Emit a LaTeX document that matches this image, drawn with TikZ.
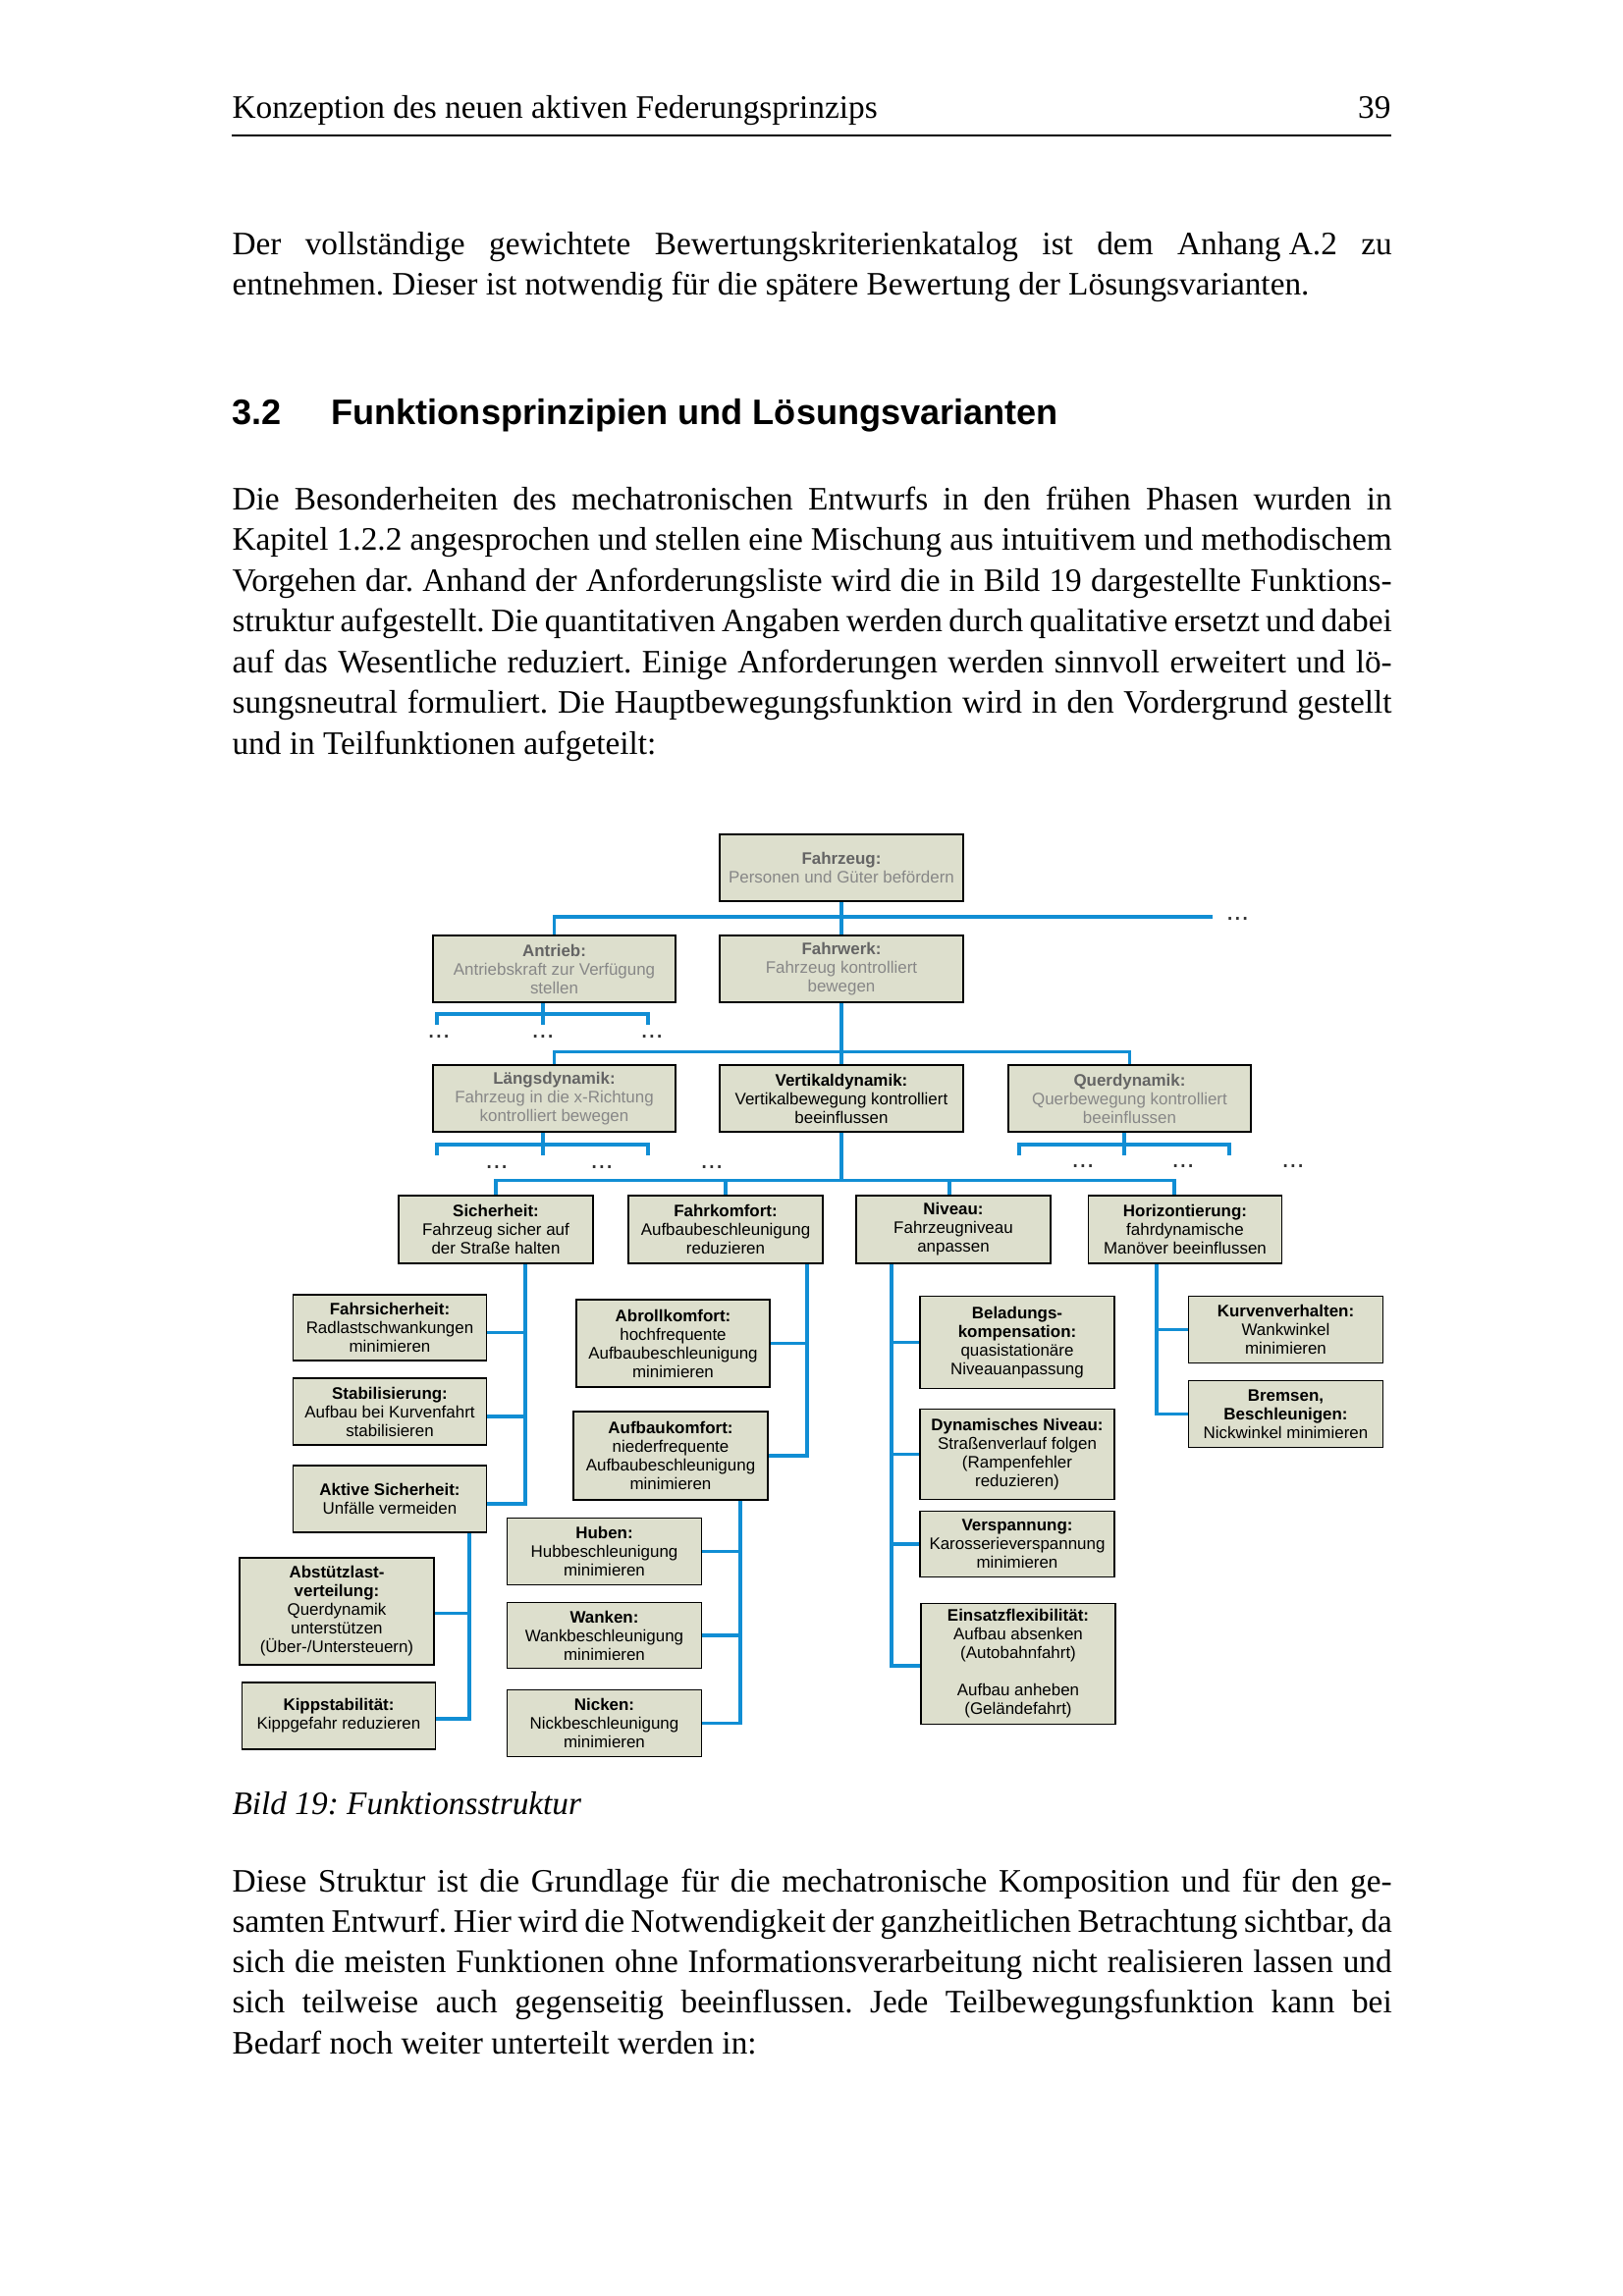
\documentclass[tikz,border=0pt]{standalone}
\usepackage{fontspec}
\setmainfont{Liberation Serif}
\setsansfont{Liberation Sans}
\usetikzlibrary{calc}
\definecolor{boxfill}{RGB}{221,223,205}
\definecolor{linkblue}{RGB}{17,142,212}
\definecolor{tgrey}{RGB}{100,100,100}
\definecolor{bgrey}{RGB}{135,135,135}
\newcommand\jline[1]{\hbox to 425.2pt{#1}}
\frenchspacing
\begin{document}
\begin{tikzpicture}[x=0.36pt, y=-0.36pt,
  body/.style={anchor=base west, inner sep=0pt, font=\fontsize{12pt}{15pt}\selectfont},
  box/.style={draw=black, line width=0.5pt, fill=boxfill, inner sep=0pt, align=center,
    font=\sffamily\fontsize{6.1pt}{6.85pt}\selectfont},
  gbox/.style={box, text=bgrey},
  bx/.style 2 args={minimum width=#1*0.36pt, minimum height=#2*0.36pt},
  conn/.style={draw=linkblue, line width=1.3pt},
  dotsn/.style={anchor=base, inner sep=0pt, font=\sffamily\fontsize{10pt}{12pt}\selectfont, text=black!80}]
\fill[white] (0,0) rectangle (1653,2339);
\useasboundingbox (0,0) rectangle (1653,2339);

% header
\node[body] (hdr) at (236,120) {Konzeption des neuen aktiven Federungsprinzips};
\node[body, anchor=base east] (pg) at (1417,120) {39};
\draw[line width=0.8pt] (236,138) -- (1417,138);

% paragraph 1
\node[body] (p1a) at (236,259) {\jline{Der vollständige gewichtete Bewertungskriterienkatalog ist dem Anhang\hspace{3pt}A.2 zu}};
\node[body] (p1b) at (236,300.5) {entnehmen. Dieser ist notwendig für die spätere Bewertung der Lösungsvarianten.};

% heading
\node[body, font=\sffamily\bfseries\fontsize{13pt}{15pt}\selectfont] (hnum) at (236,432) {3.2};
\node[body, font=\sffamily\bfseries\fontsize{13pt}{15pt}\selectfont] (htit) at (337,432) {Funktionsprinzipien und Lösungsvarianten};

% paragraph 2
\node[body] (p2a) at (236,519) {\jline{Die Besonderheiten des mechatronischen Entwurfs in den frühen Phasen wurden in}};
\node[body] (p2b) at (236,560.5) {\jline{Kapitel 1.2.2 angesprochen und stellen eine Mischung aus intuitivem und methodischem}};
\node[body] (p2c) at (236,602) {\jline{Vorgehen dar. Anhand der Anforderungsliste wird die in Bild 19 dargestellte Funktions-}};
\node[body] (p2d) at (236,643.5) {\jline{struktur aufgestellt. Die quantitativen Angaben werden durch qualitative ersetzt und dabei}};
\node[body] (p2e) at (236,685) {\jline{auf das Wesentliche reduziert. Einige Anforderungen werden sinnvoll erweitert und lö-}};
\node[body] (p2f) at (236,726.5) {\jline{sungsneutral formuliert. Die Hauptbewegungsfunktion wird in den Vordergrund gestellt}};
\node[body] (p2g) at (236,768) {und in Teilfunktionen aufgeteilt:};

% caption
\node[body, font=\itshape\fontsize{12pt}{15pt}\selectfont] (cap) at (236,1848) {Bild 19: Funktionsstruktur};

% paragraph 3
\node[body] (p3a) at (236,1927) {\jline{Diese Struktur ist die Grundlage für die mechatronische Komposition und für den ge-}};
\node[body] (p3b) at (236,1968.25) {\jline{samten Entwurf. Hier wird die Notwendigkeit der ganzheitlichen Betrachtung sichtbar, da}};
\node[body] (p3c) at (236,2009.5) {\jline{sich die meisten Funktionen ohne Informationsverarbeitung nicht realisieren lassen und}};
\node[body] (p3d) at (236,2050.75) {\jline{sich teilweise auch gegenseitig beeinflussen. Jede Teilbewegungsfunktion kann bei}};
\node[body] (p3e) at (236,2092) {Bedarf noch weiter unterteilt werden in:};

% ---------- diagram boxes ----------
\node[gbox, bx={248}{68}] (fz) at (857,884) {\textcolor{tgrey}{\textbf{Fahrzeug:}}\\Personen und Güter befördern};
\node[gbox, bx={247}{68}] (an) at (564.5,987) {\textcolor{tgrey}{\textbf{Antrieb:}}\\Antriebskraft zur Verfügung\\stellen};
\node[gbox, bx={248}{68}] (fw) at (857,987) {\textcolor{tgrey}{\textbf{Fahrwerk:}}\\Fahrzeug kontrolliert\\bewegen};
\node[gbox, bx={247}{68}] (ld) at (564.5,1119) {\textcolor{tgrey}{\textbf{Längsdynamik:}}\\Fahrzeug in die x-Richtung\\kontrolliert bewegen};
\node[box, bx={248}{68}] (vd) at (857,1119) {\textbf{Vertikaldynamik:}\\Vertikalbewegung kontrolliert\\beeinflussen};
\node[gbox, bx={247}{68}] (qd) at (1150.5,1119) {\textcolor{tgrey}{\textbf{Querdynamik:}}\\Querbewegung kontrolliert\\beeinflussen};

\node[box, bx={198}{69}] (si) at (505,1252.5) {\textbf{Sicherheit:}\\Fahrzeug sicher auf\\der Straße halten};
\node[box, bx={198}{69}] (fk) at (739,1252.5) {\textbf{Fahrkomfort:}\\Aufbaubeschleunigung\\reduzieren};
\node[box, bx={198}{69}] (ni) at (971,1252.5) {\textbf{Niveau:}\\Fahrzeugniveau\\anpassen};
\node[box, bx={197}{69}] (ho) at (1207,1252.5) {\textbf{Horizontierung:}\\fahrdynamische\\Manöver beeinflussen};

\node[box, bx={197}{67}] (fs) at (397,1352.5) {\textbf{Fahrsicherheit:}\\Radlastschwankungen\\minimieren};
\node[box, bx={197}{68}] (st) at (397,1438) {\textbf{Stabilisierung:}\\Aufbau bei Kurvenfahrt\\stabilisieren};
\node[box, bx={197}{68}] (as) at (397,1527) {\textbf{Aktive Sicherheit:}\\Unfälle vermeiden};
\node[box, bx={198}{109}] (ab) at (343,1641.3) {\textbf{Abstützlast-}\\\textbf{verteilung:}\\Querdynamik\\unterstützen\\(Über-/Untersteuern)};
\node[box, bx={197}{68}] (kp) at (345,1748) {\textbf{Kippstabilität:}\\Kippgefahr reduzieren};

\node[box, bx={197}{89}] (ak) at (685.5,1368.5) {\textbf{Abrollkomfort:}\\hochfrequente\\Aufbaubeschleunigung\\minimieren};
\node[box, bx={198}{90}] (bk) at (683,1483) {\textbf{Aufbaukomfort:}\\niederfrequente\\Aufbaubeschleunigung\\minimieren};
\node[box, bx={198}{68}] (hu) at (615.5,1580.5) {\textbf{Huben:}\\Hubbeschleunigung\\minimieren};
\node[box, bx={198}{67}] (wa) at (615.5,1666) {\textbf{Wanken:}\\Wankbeschleunigung\\minimieren};
\node[box, bx={198}{68}] (nk) at (615.5,1755.5) {\textbf{Nicken:}\\Nickbeschleunigung\\minimieren};

\node[box, bx={198}{94}] (be) at (1036,1367.5) {\textbf{Beladungs-}\\\textbf{kompensation:}\\quasistationäre\\Niveauanpassung};
\node[box, bx={198}{92}] (dn) at (1036,1481.3) {\textbf{Dynamisches Niveau:}\\Straßenverlauf folgen\\(Rampenfehler\\reduzieren)};
\node[box, bx={198}{67}] (vs) at (1036,1573) {\textbf{Verspannung:}\\Karosserieverspannung\\minimieren};
\node[box, bx={198}{123}] (ef) at (1037,1695) {\textbf{Einsatzflexibilität:}\\Aufbau absenken\\(Autobahnfahrt)\\[6.85pt]Aufbau anheben\\(Geländefahrt)};

\node[box, bx={198}{68}] (kv) at (1309.5,1354.5) {\textbf{Kurvenverhalten:}\\Wankwinkel\\minimieren};
\node[box, bx={198}{68}] (br) at (1309.5,1440.5) {\textbf{Bremsen,}\\\textbf{Beschleunigen:}\\Nickwinkel minimieren};

% ---------- connectors ----------
\coordinate (topend) at (1235,934);
\draw[conn] (an.north) |- (topend);
\draw[conn] (fz.south) -- (fw.north);

\coordinate (anL) at (445,1044);
\coordinate (anM) at (553,1044);
\coordinate (anR) at (660,1044);
\draw[conn] (an.south -| anM) -- (anM);
\draw[conn] (anL) -- ++(0,-11) -| (anR);

\coordinate (l2bar) at ($(ld.north)+(0,-13)$);
\draw[conn] (ld.north) -- (l2bar) -| (qd.north);
\draw[conn] (fw.south) -- (vd.north);

\coordinate (ldL) at (445,1177);
\coordinate (ldM) at (553,1177);
\coordinate (ldR) at (660,1177);
\draw[conn] (ld.south -| ldM) -- (ldM);
\draw[conn] (ldL) -- ++(0,-11) -| (ldR);

\coordinate (qdL) at (1038,1177);
\coordinate (qdM) at (1145,1177);
\coordinate (qdR) at (1252,1177);
\draw[conn] (qd.south -| qdM) -- (qdM);
\draw[conn] (qdL) -- ++(0,-11) -| (qdR);

\coordinate (l3bar) at ($(si.north)+(0,-15)$);
\coordinate (hoTop) at ($(ho.north)+(-11,0)$);
\coordinate (niTop) at ($(ni.north)+(-4,0)$);
\draw[conn] (si.north) -- (l3bar) -| (hoTop);
\draw[conn] (vd.south) -- (vd.south |- l3bar);
\draw[conn] (fk.north) -- (fk.north |- l3bar);
\draw[conn] (niTop) -- (niTop |- l3bar);

% Sicherheit group
\coordinate (siS) at ($(si.south)+(30,0)$);
\draw[conn] (siS) |- ($(as.east)+(0,5)$);
\draw[conn] ($(fs.east)+(0,5)$) -- ($(fs.east -| siS)+(0,5)$);
\draw[conn] ($(st.east)+(0,5)$) -- ($(st.east -| siS)+(0,5)$);
\coordinate (asS) at ($(as.south)+(81,0)$);
\draw[conn] (asS) |- ($(kp.east)+(0,3)$);
\draw[conn] ($(ab.east)+(0,2)$) -- ($(ab.east -| asS)+(0,2)$);

% Fahrkomfort group
\coordinate (fkS) at ($(fk.south)+(83,0)$);
\draw[conn] (fkS) |- (bk.east);
\draw[conn] (ak.east) -- (ak.east -| fkS);
\coordinate (bkS) at ($(bk.south)+(71,0)$);
\draw[conn] (bkS) |- (nk.east);
\draw[conn] (hu.east) -- (hu.east -| bkS);
\draw[conn] (wa.east) -- (wa.east -| bkS);

% Niveau group
\coordinate (niS) at ($(ni.south)+(-63,0)$);
\draw[conn] (niS) |- ($(ef.west)+(0,2)$);
\draw[conn] (be.west) -- (be.west -| niS);
\draw[conn] (dn.west) -- (dn.west -| niS);
\draw[conn] (vs.west) -- (vs.west -| niS);

% Horizontierung group
\coordinate (hoS) at ($(ho.south)+(-29,0)$);
\draw[conn] (hoS) |- (br.west);
\draw[conn] (kv.west) -- (kv.west -| hoS);

% dots
\node[dotsn] (d1) at (1260.5,937.5) {...};
\node[dotsn] (d2) at (447,1057) {...};
\node[dotsn] (d3) at (553,1057) {...};
\node[dotsn] (d4) at (664,1057) {...};
\node[dotsn] (d5) at (506,1190) {...};
\node[dotsn] (d6) at (613,1190) {...};
\node[dotsn] (d7) at (725,1190) {...};
\node[dotsn] (d8) at (1103,1189) {...};
\node[dotsn] (d9) at (1205,1189) {...};
\node[dotsn] (d10) at (1317,1189) {...};
\end{tikzpicture}
\end{document}
